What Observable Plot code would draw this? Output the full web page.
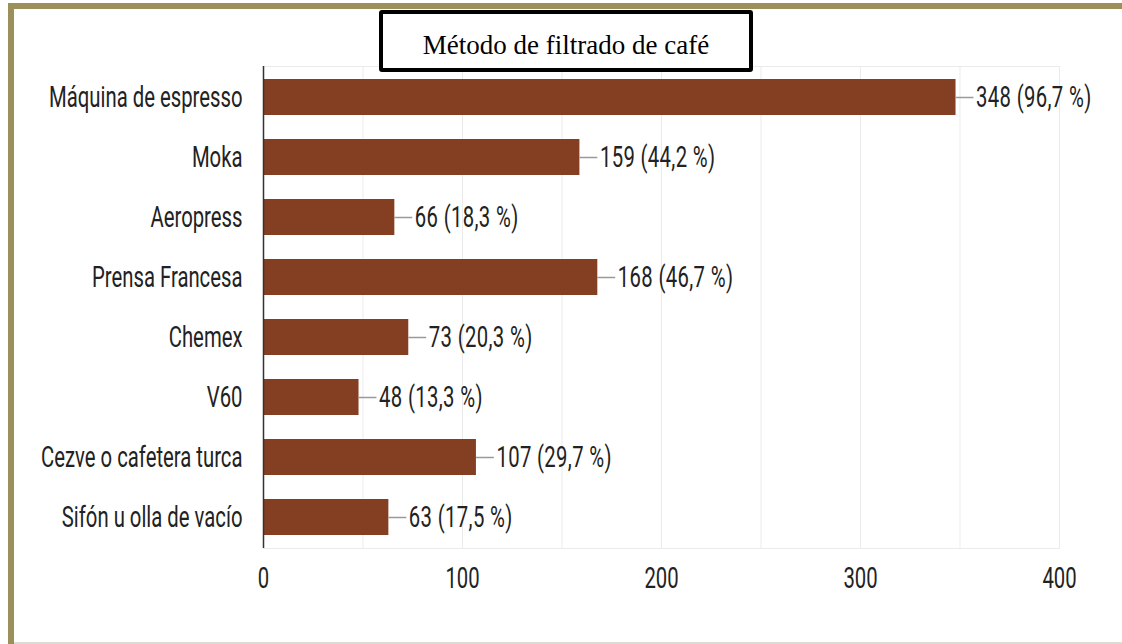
<!DOCTYPE html>
<html><head><meta charset="utf-8">
<script src="https://cdn.jsdelivr.net/npm/d3@7"></script>
<script src="https://cdn.jsdelivr.net/npm/@observablehq/plot@0.6"></script>
<style>
html,body{margin:0;padding:0;background:#fff;}
#wrap{position:relative;width:1122px;height:644px;overflow:hidden;}
#chart{position:absolute;left:0;top:0;}
#frame{position:absolute;left:8px;top:3px;width:1130px;height:660px;border-left:6px solid #9b9059;border-top:6px solid #9b9059;box-sizing:border-box;pointer-events:none;}
#bottomline{position:absolute;left:14px;top:642px;width:1108px;height:2px;background:#dddbd2;}
#title{position:absolute;left:379px;top:10px;width:374px;height:62px;box-sizing:border-box;border:4px solid #000;border-radius:3px;background:#fff;font-family:"Liberation Serif","Times New Roman",serif;font-size:27px;line-height:27px;text-align:center;padding-top:18px;color:#000;white-space:nowrap;}
.vlabel text{letter-spacing:0.35px;}
</style></head>
<body><div id="wrap"><div id="chart"></div><div id="frame"></div><div id="bottomline"></div><div id="title">Método de filtrado de café</div></div>
<script>
const categories = ["Máquina de espresso","Moka","Aeropress","Prensa Francesa","Chemex","V60","Cezve o cafetera turca","Sifón u olla de vacío"];
const counts = [348,159,66,168,73,48,107,63];
const percents = ["96,7","44,2","18,3","46,7","20,3","13,3","29,7","17,5"];
const xTicks = [0,100,200,300,400];
const gridValues = [0,50,100,150,200,250,300,350,400];

const data = categories.map((c,i)=>({name:c, value:counts[i], label:`${counts[i]} (${percents[i]} %)`}));

const plot = Plot.plot({
  width:1122, height:644, marginLeft:263, marginRight:63, marginTop:66, marginBottom:96,
  style:{fontFamily:"Roboto", fontSize:"20.3px", color:"#222", background:"transparent"},
  x:{domain:[0,400], ticks:xTicks, label:null},
  y:{domain:categories, paddingInner:0.4, paddingOuter:0.2, label:null},
  marks:[
    Plot.ruleX(gridValues,{stroke:"#ebebeb", strokeWidth:1}),
    Plot.frame({stroke:"#ebebeb"}),
    Plot.barX(data,{y:"name", x:"value", fill:"#843f23"}),
    Plot.ruleY(data,{y:"name", x1:"value", x2:d=>d.value+9, stroke:"#999", strokeWidth:1.5}),
    Plot.text(data,{y:"name", x:"value", text:"label", textAnchor:"start", dx:20, fill:"#222", className:"vlabel"}),
    Plot.ruleX([0],{stroke:"#333", strokeWidth:1.5}),
    Plot.axisX({ticks:xTicks, tickSize:0, tickPadding:19, label:null}),
    Plot.axisY({tickSize:0, tickPadding:21, label:null})
  ]
});

const S = 1.45;
plot.querySelectorAll("text").forEach(t => {
  const tr = t.getAttribute("transform");
  if (tr) t.setAttribute("transform", tr + ` scale(1,${S})`);
});
document.getElementById("chart").appendChild(plot);
</script>
</body></html>
